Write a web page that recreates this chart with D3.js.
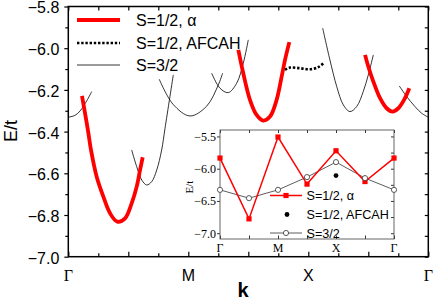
<!doctype html>
<html>
<head>
<meta charset="utf8">
<title>E/t vs k</title>
<script src="https://cdn.jsdelivr.net/npm/d3@7"></script>
<style>
  body { margin: 0; background: #fff; }
  svg { display: block; }
</style>
</head>
<body>
<div id="chart"></div>
<script>
"use strict";
// main panel: k in units of path (G=0, M=1, X=2, G=3), E in t
const kTickLabels = ["\u0393", "M", "X", "\u0393"];
const kTickPos = [0, 1, 2, 3];

// S=1/2, alpha (thick red)
const red1 = [[0.114,-6.229],[0.139,-6.310],[0.167,-6.406],[0.189,-6.488],[0.237,-6.618],[0.292,-6.712],
              [0.348,-6.792],[0.408,-6.832],[0.473,-6.816],[0.528,-6.744],[0.570,-6.664],[0.598,-6.584],[0.620,-6.523]];
const red2 = [[1.417,-6.008],[1.458,-6.120],[1.514,-6.248],[1.569,-6.320],[1.625,-6.347],[1.681,-6.328],
              [1.736,-6.248],[1.778,-6.136],[1.806,-6.056],[1.842,-5.971]];
const red3 = [[2.473,-6.032],[2.500,-6.088],[2.542,-6.160],[2.598,-6.240],[2.653,-6.288],[2.703,-6.304],
              [2.750,-6.288],[2.798,-6.248],[2.842,-6.192]];
// S=1/2, AFCAH (dotted)
const afcah = [[1.806,-6.104],[1.847,-6.093],[1.931,-6.096],[2.014,-6.101],[2.083,-6.091],[2.133,-6.069]];
// S=3/2 (thin black)
const s32a = [[0.000,-6.331],[0.056,-6.322],[0.098,-6.301],[0.153,-6.253],[0.195,-6.208]];
const s32d = [[0.528,-6.488],[0.570,-6.568],[0.612,-6.632],[0.653,-6.656],[0.695,-6.640],[0.737,-6.584],
              [0.778,-6.488],[0.806,-6.384],[0.875,-6.128]];
const s32b = [[0.758,-6.149],[0.873,-6.269],[1.014,-6.325],[1.153,-6.278],[1.250,-6.176],[1.286,-6.120]];
const s32c = [[1.195,-6.120],[1.264,-6.192],[1.333,-6.213],[1.403,-6.168],[1.458,-6.072],[1.500,-5.960]];
const s32e = [[2.120,-5.904],[2.180,-6.056],[2.237,-6.184],[2.292,-6.272],[2.347,-6.304],[2.403,-6.280],
              [2.458,-6.208],[2.500,-6.128],[2.542,-6.032]];
const s32f = [[2.758,-6.181],[2.820,-6.232],[2.889,-6.280],[2.945,-6.312],[3.000,-6.331]];

const legendNames = ["S=1/2, \u03b1", "S=1/2, AFCAH", "S=3/2"];

// inset: 7 k points along G - M - X - G
const insetTickLabels = ["\u0393", "M", "X", "\u0393"];
const insetTickPos = [0, 2, 4, 6];
const insetK = [0, 1, 2, 3, 4, 5, 6];
const insetAlpha = [-5.835, -6.778, -5.509, -6.239, -5.722, -6.199, -5.835];
const insetS32 = [-6.328, -6.457, -6.328, -6.130, -5.898, -6.146, -6.328];
const insetAfcahK = [4];
const insetAfcah = [-6.106];

const W = 434, H = 300;
const svg = d3.select("#chart").append("svg").attr("width", W).attr("height", H);

const x = d3.scaleLinear().domain([0, 3]).range([68.3, 428.3]);
const y = d3.scaleLinear().domain([-7.0, -5.8]).range([256.7, 6.5]);

const sans = "'Liberation Sans', Arial, sans-serif";
const serif = "'Liberation Serif', 'Times New Roman', serif";

// axes
const yMajor = d3.range(-7.0, -5.79, 0.2);
const yMinor = d3.range(-6.9, -5.8, 0.2);
const xMajor = d3.range(0, 3.01, 0.5);
const xMinor = d3.range(0.25, 3, 0.5);

svg.append("g").attr("transform", "translate(68.3,0)")
  .call(d3.axisLeft(y).tickValues(yMajor).tickSize(4).tickFormat(d3.format(".1f")))
  .call(g => g.select(".domain").remove())
  .call(g => g.selectAll("text").attr("font-family", sans).attr("font-size", 16).attr("x", -9).attr("dy", "0.4em"));
svg.append("g").attr("transform", "translate(68.3,0)")
  .call(d3.axisLeft(y).tickValues(yMinor).tickSize(3).tickFormat(""))
  .call(g => g.select(".domain").remove());
svg.append("g").attr("transform", "translate(428.3,0)")
  .call(d3.axisLeft(y).tickValues(d3.range(-7.0, -5.79, 0.1)).tickSize(3.5).tickFormat(""))
  .call(g => g.select(".domain").remove());
svg.append("g").attr("transform", "translate(0,256.7)")
  .call(d3.axisTop(x).tickValues(xMajor).tickSize(5).tickFormat(""))
  .call(g => g.select(".domain").remove());
svg.append("g").attr("transform", "translate(0,256.7)")
  .call(d3.axisTop(x).tickValues(xMinor).tickSize(3.5).tickFormat(""))
  .call(g => g.select(".domain").remove());
svg.append("g").attr("transform", "translate(0,6.5)")
  .call(d3.axisBottom(x).tickValues(d3.range(0, 3.01, 0.25)).tickSize(4).tickFormat(""))
  .call(g => g.select(".domain").remove());
svg.selectAll(".tick line").attr("stroke", "#000").attr("stroke-width", 1.2);

svg.append("rect").attr("x", x(0)).attr("y", y(-5.8))
  .attr("width", x(3) - x(0)).attr("height", y(-7) - y(-5.8))
  .attr("fill", "none").attr("stroke", "#000").attr("stroke-width", 1.5);

svg.append("g").selectAll("text").data(kTickPos).join("text")
  .attr("x", d => x(d)).attr("y", 281)
  .attr("text-anchor", "middle").attr("font-size", 16)
  .attr("font-family", (d, i) => kTickLabels[i] === "\u0393" ? serif : sans)
  .text((d, i) => kTickLabels[i]);

svg.append("text").attr("x", 243).attr("y", 297).attr("text-anchor", "middle")
  .attr("font-family", sans).attr("font-size", 20).attr("font-weight", "bold").text("k");
svg.append("text").attr("transform", "translate(17,131) rotate(-90)").attr("text-anchor", "middle")
  .attr("font-family", sans).attr("font-size", 18).text("E/t");

// curves
const line = d3.line().x(d => x(d[0])).y(d => y(d[1])).curve(d3.curveCatmullRom);
const plot = svg.append("g");
[s32a, s32d, s32b, s32c, s32e, s32f].forEach(s =>
  plot.append("path").attr("d", line(s)).attr("fill", "none").attr("stroke", "#000").attr("stroke-width", 0.8));
[red1, red2, red3].forEach(s =>
  plot.append("path").attr("d", line(s)).attr("fill", "none").attr("stroke", "#ff0000")
    .attr("stroke-width", 3.8).attr("stroke-linecap", "butt"));
plot.append("path").attr("d", line(afcah)).attr("fill", "none").attr("stroke", "#000")
  .attr("stroke-width", 2.6).attr("stroke-dasharray", "2.4,1.8");

// main legend
const leg = svg.append("g");
const legY = [20, 43, 65];
leg.append("line").attr("x1", 77).attr("x2", 120).attr("y1", legY[0]).attr("y2", legY[0])
  .attr("stroke", "#ff0000").attr("stroke-width", 3.8);
leg.append("line").attr("x1", 77).attr("x2", 120).attr("y1", legY[1]).attr("y2", legY[1])
  .attr("stroke", "#000").attr("stroke-width", 2.6).attr("stroke-dasharray", "2.4,1.8");
leg.append("line").attr("x1", 77).attr("x2", 120).attr("y1", legY[2]).attr("y2", legY[2])
  .attr("stroke", "#000").attr("stroke-width", 0.8);
leg.selectAll("text").data(legendNames).join("text")
  .attr("x", 136).attr("y", (d, i) => legY[i]).attr("dy", "0.36em")
  .attr("font-family", sans).attr("font-size", 16).text(d => d);

// inset
const ix = d3.scaleLinear().domain([0, 6]).range([220, 394]);
const iy = d3.scaleLinear().domain([-7.09, -5.4]).range([239, 130]);
const inset = svg.append("g");
inset.append("rect").attr("x", 220).attr("y", 130).attr("width", 174).attr("height", 109)
  .attr("fill", "#fff").attr("stroke", "none");

inset.append("g").attr("transform", "translate(220,0)")
  .call(d3.axisLeft(iy).tickValues([-7.0, -6.5, -6.0, -5.5]).tickSize(3).tickFormat(d3.format(".1f")))
  .call(g => g.select(".domain").remove())
  .call(g => g.selectAll("text").attr("font-family", serif).attr("font-size", 12).attr("x", -4));
inset.append("g").attr("transform", "translate(394,0)")
  .call(d3.axisLeft(iy).tickValues(d3.range(-7.0, -5.49, 0.25)).tickSize(3).tickFormat(""))
  .call(g => g.select(".domain").remove());
inset.append("g").attr("transform", "translate(0,239)")
  .call(d3.axisTop(ix).tickValues(insetK).tickSize(3.5).tickFormat(""))
  .call(g => g.select(".domain").remove());
inset.append("g").attr("transform", "translate(0,130)")
  .call(d3.axisBottom(ix).tickValues(insetK).tickSize(3).tickFormat(""))
  .call(g => g.select(".domain").remove());
inset.selectAll(".tick line").attr("stroke", "#000").attr("stroke-width", 0.8);
inset.append("rect").attr("x", 220).attr("y", 130).attr("width", 174).attr("height", 109)
  .attr("fill", "none").attr("stroke", "#555").attr("stroke-width", 0.9);

inset.append("g").selectAll("text").data(insetTickPos).join("text")
  .attr("x", d => ix(d)).attr("y", 252).attr("text-anchor", "middle")
  .attr("font-family", serif).attr("font-size", 12).text((d, i) => insetTickLabels[i]);
inset.append("text").attr("transform", "translate(193,187) rotate(-90)").attr("text-anchor", "middle")
  .attr("font-family", serif).attr("font-size", 11).text("E/t");

const iline = d3.line().x(d => ix(d[0])).y(d => iy(d[1]));
const s32pts = insetK.map((k, i) => [k, insetS32[i]]);
const alphaPts = insetK.map((k, i) => [k, insetAlpha[i]]);
inset.append("path").attr("d", iline(s32pts)).attr("fill", "none").attr("stroke", "#333").attr("stroke-width", 0.8);
inset.append("path").attr("d", iline(alphaPts)).attr("fill", "none").attr("stroke", "#ff0000").attr("stroke-width", 1.5);
inset.selectAll("rect.sq").data(alphaPts).join("rect").attr("class", "sq")
  .attr("x", d => ix(d[0]) - 2.6).attr("y", d => iy(d[1]) - 2.6).attr("width", 5.2).attr("height", 5.2)
  .attr("fill", "#ff0000");
inset.selectAll("circle.oc").data(s32pts).join("circle").attr("class", "oc")
  .attr("cx", d => ix(d[0])).attr("cy", d => iy(d[1])).attr("r", 2.6)
  .attr("fill", "#fff").attr("stroke", "#333").attr("stroke-width", 0.8);
inset.selectAll("circle.af").data(insetAfcahK).join("circle").attr("class", "af")
  .attr("cx", d => ix(d)).attr("cy", (d, i) => iy(insetAfcah[i])).attr("r", 2.4).attr("fill", "#000");

// inset legend
const ilY = [195.5, 214.5, 233];
const il = inset.append("g");
il.append("line").attr("x1", 270).attr("x2", 302).attr("y1", ilY[0]).attr("y2", ilY[0])
  .attr("stroke", "#ff0000").attr("stroke-width", 1.5);
il.append("rect").attr("x", 286 - 2.6).attr("y", ilY[0] - 2.6).attr("width", 5.2).attr("height", 5.2).attr("fill", "#ff0000");
il.append("circle").attr("cx", 287).attr("cy", ilY[1]).attr("r", 2.4).attr("fill", "#000");
il.append("line").attr("x1", 270).attr("x2", 302).attr("y1", ilY[2]).attr("y2", ilY[2])
  .attr("stroke", "#333").attr("stroke-width", 0.8);
il.append("circle").attr("cx", 286).attr("cy", ilY[2]).attr("r", 2.6)
  .attr("fill", "#fff").attr("stroke", "#333").attr("stroke-width", 0.8);
il.selectAll("text").data(legendNames).join("text")
  .attr("x", 306.5).attr("y", (d, i) => ilY[i]).attr("dy", "0.36em")
  .attr("font-family", sans).attr("font-size", 12.6).text(d => d);
</script>
</body>
</html>
